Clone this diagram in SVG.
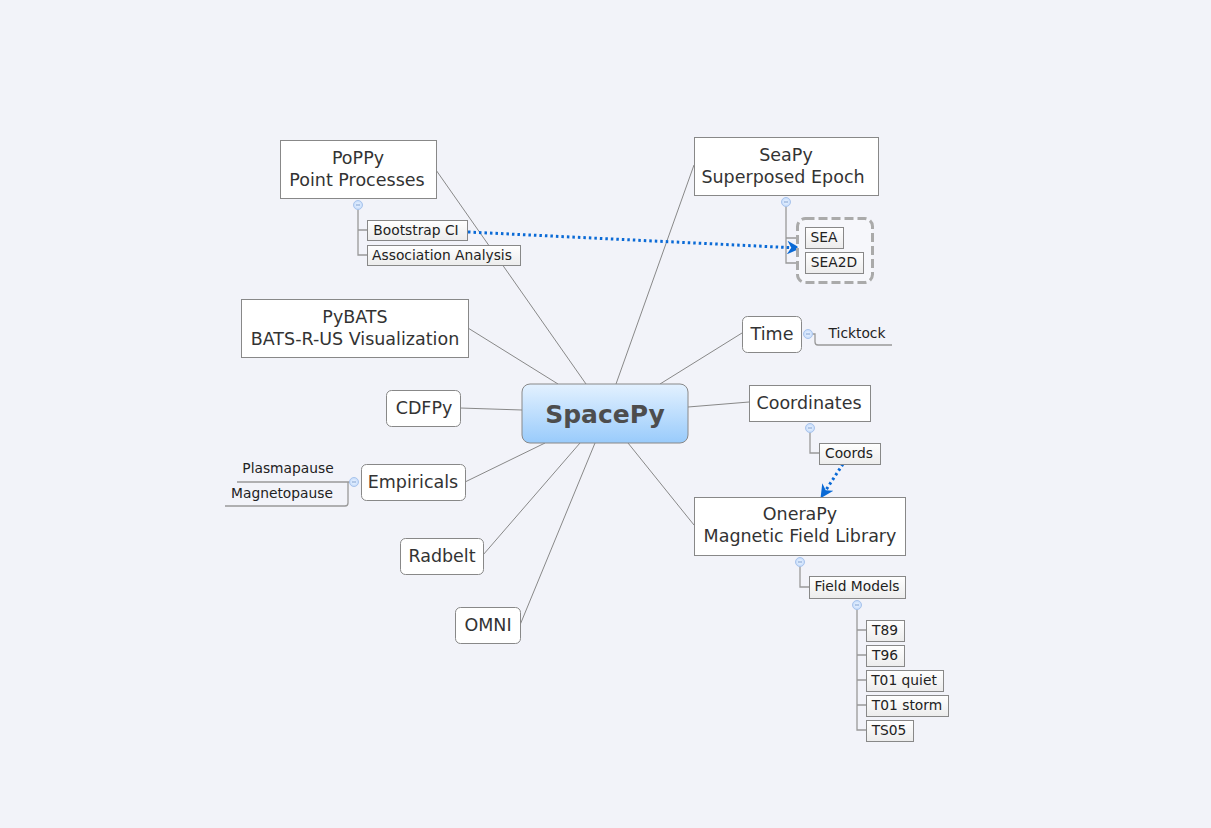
<svg xmlns="http://www.w3.org/2000/svg" width="1211" height="828" viewBox="0 0 1211 828">
<defs>
<linearGradient id="cg" x1="0" y1="0" x2="0" y2="1"><stop offset="0" stop-color="#e3f1ff"/><stop offset="1" stop-color="#99cbfb"/></linearGradient>
<linearGradient id="sg" x1="0" y1="0" x2="0" y2="1"><stop offset="0" stop-color="#ffffff"/><stop offset="1" stop-color="#ececec"/></linearGradient>
<radialGradient id="kg"><stop offset="0" stop-color="#eef5ff"/><stop offset="1" stop-color="#c4dbfb"/></radialGradient>
<marker id="ah" viewBox="0 0 10 10" refX="8" refY="5" markerWidth="4.5" markerHeight="4.5" orient="auto" markerUnits="strokeWidth"><path d="M0 0 L10 5 L0 10 L3 5 Z" fill="#0a6ad6"/></marker>
</defs>
<style>
text{font-family:"DejaVu Sans","Noto Sans",sans-serif;fill:#333;text-anchor:middle}
.m{font-size:17.5px}
.t{font-size:17.5px}
.s{font-size:13.8px;fill:#222}
.box{fill:#fff;stroke:#888;stroke-width:1}
.sub{fill:url(#sg);stroke:#888;stroke-width:1}
.ln{fill:none;stroke:#888;stroke-width:1}
.br{fill:none;stroke:#999;stroke-width:1.3}
.k{fill:url(#kg);stroke:#a9c4ec;stroke-width:1}
.km{stroke:#7f9fcf;stroke-width:1}
.rel{fill:none;stroke:#0a6ad6;stroke-width:3;stroke-dasharray:2.5 3}
</style>
<rect width="1211" height="828" fill="#f2f3f9"/>
<g id="connectors">
<line class="ln" x1="436" y1="170" x2="586" y2="384"/>
<line class="ln" x1="694" y1="165" x2="616" y2="384"/>
<line class="ln" x1="468" y1="328" x2="558" y2="384"/>
<line class="ln" x1="460" y1="408" x2="522" y2="410"/>
<line class="ln" x1="465" y1="482" x2="545" y2="443"/>
<line class="ln" x1="483" y1="555" x2="580" y2="443"/>
<line class="ln" x1="520" y1="625" x2="595" y2="443"/>
<line class="ln" x1="742" y1="333" x2="660" y2="384"/>
<line class="ln" x1="749" y1="402" x2="688" y2="407"/>
<line class="ln" x1="694" y1="525" x2="628" y2="443"/>
<path class="br" d="M358 209 V255 H367 M358 230 H367"/>
<path class="br" d="M786 206 V263 H805 M786 238 H805"/>
<path class="br" d="M812 334 H815 V342 Q815 345 818 345 H892"/>
<path class="br" d="M350 482 H348 V503 Q348 506 345 506 H225 M348 482 H237"/>
<path class="br" d="M810 432 V453 H819"/>
<path class="br" d="M800 566 V587 H809"/>
<path class="br" d="M857 609 V730 H866 M857 630 H866 M857 655 H866 M857 680 H866 M857 705 H866"/>
<path class="rel" d="M468 232 L798 248" marker-end="url(#ah)"/>
<path class="rel" d="M843 464 L822 496" marker-end="url(#ah)"/>
</g>
<g id="spacepy">
<rect x="522" y="384" width="166" height="59" rx="8" fill="url(#cg)" stroke="#888"/>
<text x="605" y="423" style="font-size:25px;font-weight:bold;fill:#4d4d4d">SpacePy</text>
</g>
<g id="poppy">
<rect class="box" x="280.5" y="140.5" width="156" height="58"/>
<text class="t" x="358" y="164">PoPPy</text>
<text class="t" x="357" y="186">Point Processes</text>
<circle class="k" cx="358" cy="205" r="4.5"/><line class="km" x1="356" y1="205" x2="360" y2="205"/>
</g>
<g id="bootstrap">
<rect class="sub" x="367.5" y="220.5" width="100" height="20"/>
<text class="s" x="416" y="235">Bootstrap CI</text>
</g>
<g id="association">
<rect class="sub" x="367.5" y="245.5" width="153" height="20"/>
<text class="s" x="442" y="260">Association Analysis</text>
</g>
<g id="seapy">
<rect class="box" x="694.5" y="137.5" width="184" height="58"/>
<text class="t" x="786" y="161">SeaPy</text>
<text class="t" x="783" y="183">Superposed Epoch</text>
<circle class="k" cx="786" cy="202" r="4.5"/><line class="km" x1="784" y1="202" x2="788" y2="202"/>
</g>
<g id="seagroup">
<rect x="797.5" y="218.5" width="75" height="64" rx="8" fill="#f6f7fb" stroke="#aaa" stroke-width="3" stroke-dasharray="9 4"/>
</g>
<g id="sea">
<rect class="sub" x="805.5" y="227.5" width="38" height="21"/>
<text class="s" x="824" y="242">SEA</text>
</g>
<g id="sea2d">
<rect class="sub" x="805.5" y="252.5" width="58" height="21"/>
<text class="s" x="834" y="267">SEA2D</text>
</g>
<g id="pybats">
<rect class="box" x="241.5" y="299.5" width="227" height="58"/>
<text class="t" x="355" y="323">PyBATS</text>
<text class="t" x="355" y="345">BATS-R-US Visualization</text>
</g>
<g id="cdfpy">
<rect class="box" x="386.5" y="390.5" width="74" height="36" rx="5"/>
<text class="m" x="424" y="414">CDFPy</text>
</g>
<g id="empiricals">
<rect class="box" x="361.5" y="464.5" width="104" height="36" rx="5"/>
<text class="m" x="413" y="488">Empiricals</text>
<circle class="k" cx="354" cy="482" r="4.5"/><line class="km" x1="352" y1="482" x2="356" y2="482"/>
</g>
<g id="plasmapause">
<text class="s" x="288" y="473">Plasmapause</text>
</g>
<g id="magnetopause">
<text class="s" x="282" y="498">Magnetopause</text>
</g>
<g id="radbelt">
<rect class="box" x="400.5" y="538.5" width="83" height="36" rx="5"/>
<text class="m" x="442" y="562">Radbelt</text>
</g>
<g id="omni">
<rect class="box" x="455.5" y="607.5" width="65" height="36" rx="5"/>
<text class="m" x="488" y="631">OMNI</text>
</g>
<g id="time">
<rect class="box" x="742.5" y="316.5" width="59" height="36" rx="5"/>
<text class="m" x="772" y="340">Time</text>
<circle class="k" cx="808" cy="334" r="4.5"/><line class="km" x1="806" y1="334" x2="810" y2="334"/>
</g>
<g id="ticktock">
<text class="s" x="857" y="338">Ticktock</text>
</g>
<g id="coordinates">
<rect class="box" x="749.5" y="385.5" width="121" height="36"/>
<text class="m" x="809" y="409">Coordinates</text>
<circle class="k" cx="810" cy="428" r="4.5"/><line class="km" x1="808" y1="428" x2="812" y2="428"/>
</g>
<g id="coords">
<rect class="sub" x="819.5" y="443.5" width="61" height="21"/>
<text class="s" x="849" y="458">Coords</text>
</g>
<g id="onerapy">
<rect class="box" x="694.5" y="497.5" width="211" height="58"/>
<text class="t" x="800" y="520">OneraPy</text>
<text class="t" x="800" y="542">Magnetic Field Library</text>
<circle class="k" cx="800" cy="562" r="4.5"/><line class="km" x1="798" y1="562" x2="802" y2="562"/>
</g>
<g id="fieldmodels">
<rect class="sub" x="809.5" y="576.5" width="96" height="22"/>
<text class="s" x="857" y="591">Field Models</text>
<circle class="k" cx="857" cy="605" r="4.5"/><line class="km" x1="855" y1="605" x2="859" y2="605"/>
</g>
<g id="t89">
<rect class="sub" x="866.5" y="620.5" width="38" height="21"/>
<text class="s" x="885" y="635">T89</text>
</g>
<g id="t96">
<rect class="sub" x="866.5" y="645.5" width="38" height="21"/>
<text class="s" x="885" y="660">T96</text>
</g>
<g id="t01quiet">
<rect class="sub" x="866.5" y="670.5" width="77" height="21"/>
<text class="s" x="904" y="685">T01 quiet</text>
</g>
<g id="t01storm">
<rect class="sub" x="866.5" y="695.5" width="82" height="21"/>
<text class="s" x="907" y="710">T01 storm</text>
</g>
<g id="ts05">
<rect class="sub" x="866.5" y="720.5" width="47" height="21"/>
<text class="s" x="889" y="735">TS05</text>
</g>
</svg>
